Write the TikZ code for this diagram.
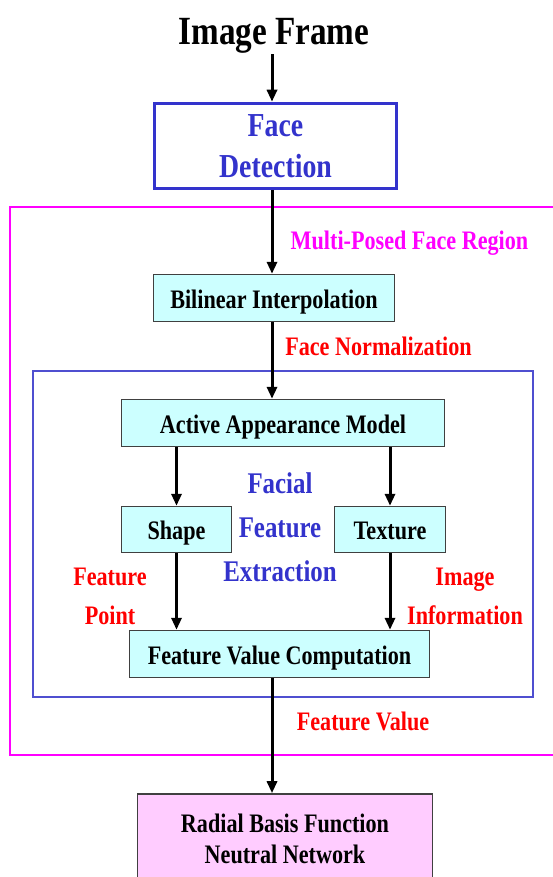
\documentclass[tikz,border=0pt]{standalone}
\usepackage{fontspec}
\setmainfont{Liberation Serif}[FakeStretch=0.83]
\usetikzlibrary{arrows.meta}
\definecolor{fdblue}{HTML}{3333CC}
\definecolor{boxcyan}{HTML}{CCFFFF}
\definecolor{boxpink}{HTML}{FFCCFF}
\definecolor{boxedge}{HTML}{404040}
\definecolor{mag}{HTML}{FF00FF}
\definecolor{lblred}{HTML}{FF0000}
\definecolor{innerblue}{HTML}{4F4FD0}
\tikzset{
  procbox/.style={draw=boxedge, line width=1.4pt, fill=boxcyan, inner sep=0pt,
    text height=20pt, text depth=0pt, font=\bfseries\fontsize{26.7}{31}\selectfont},
  flow/.style={line width=3pt, -{Triangle[length=12pt,width=10pt]}},
  redlbl/.style={text=lblred, font=\bfseries\fontsize{26.7}{39}\selectfont, align=center, inner sep=0pt},
  maglbl/.style={text=mag, font=\bfseries\fontsize{26.7}{31}\selectfont, inner sep=0pt},
  bluelbl/.style={text=fdblue, font=\bfseries\fontsize{30}{44}\selectfont, align=center, inner sep=0pt},
}
\begin{document}
\begin{tikzpicture}[x=1pt,y=-1pt]
\path[use as bounding box] (0,0) rectangle (553,877);
\clip (0,0) rectangle (553,877);
\fill[white] (0,0) rectangle (553,877);
\coordinate (spine) at (272,0);
% grouping frames
\draw[mag, line width=1.4pt] (10,207) rectangle (562,755);
\draw[innerblue, line width=1.2pt] (33,371) rectangle (533,697);
% title
\node[font=\bfseries\fontsize{40}{48}\selectfont, anchor=base, inner sep=0pt] (title) at (274,45) {Image Frame};
% boxes
\node[draw=fdblue, line width=3.5pt, fill=white, text=fdblue, minimum width=242pt, minimum height=85pt,
      align=center, inner sep=0pt, font=\bfseries\fontsize{33.5}{41}\selectfont] (fd) at (275.5,146) {Face\\Detection};
\node[procbox, minimum width=241pt, minimum height=47pt] (bil) at (274,298) {Bilinear Interpolation};
\node[procbox, minimum width=323pt, minimum height=47pt] (aam) at (283,423) {Active Appearance Model};
\node[procbox, minimum width=110pt, minimum height=46pt] (shape) at (176.5,529.5) {Shape};
\node[procbox, minimum width=111pt, minimum height=46pt] (texture) at (390,529.5) {Texture};
\node[procbox, minimum width=300pt, minimum height=47pt] (fvc) at (279.5,654) {Feature Value Computation};
\node[draw=boxedge, line width=1.4pt, fill=boxpink, inner sep=0pt, align=center,
      minimum width=295pt, minimum height=89pt, font=\bfseries\fontsize{26.7}{31}\selectfont] (rbf) at (285,838.4)
      {Radial Basis Function\\Neutral Network};
% labels
\node[maglbl, anchor=base] (mpfr) at (409.5,249) {Multi-Posed Face Region};
\node[redlbl, anchor=base] (fnorm) at (378.5,355) {Face Normalization};
\node[redlbl, anchor=base] (fval) at (363,730) {Feature Value};
\node[bluelbl] (ffe) at (280,526.8) {Facial\\Feature\\Extraction};
\node[redlbl] (fpt) at (110,596.7) {Feature\\Point};
\node[redlbl] (iinfo) at (465,596.7) {Image\\Information};
% connectors
\draw[flow] (title.south -| spine) -- (fd.north -| spine);
\draw[flow] (fd.south -| spine) -- (bil.north -| spine);
\draw[flow] (bil.south -| spine) -- (aam.north -| spine);
\draw[flow] (aam.south -| shape.north) -- (shape.north);
\draw[flow] (aam.south -| texture.north) -- (texture.north);
\draw[flow] (shape.south) -- (shape.south |- fvc.north);
\draw[flow] (texture.south) -- (texture.south |- fvc.north);
\draw[flow] (fvc.south -| spine) -- (rbf.north -| spine);
\end{tikzpicture}
\end{document}
